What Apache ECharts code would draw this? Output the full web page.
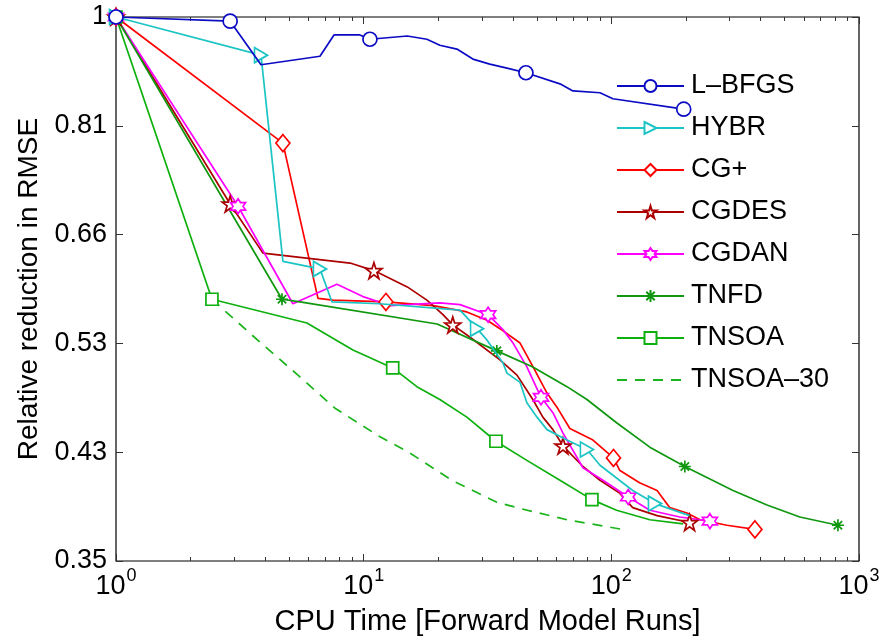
<!DOCTYPE html>
<html>
<head>
<meta charset="utf-8">
<script src="https://cdn.jsdelivr.net/npm/echarts@6/dist/echarts.min.js"></script>
<style>html,body{margin:0;background:#fff;}</style>
</head>
<body>
<div id="main" style="width:882px;height:639px;"></div>
<script>
// values (x = CPU time, y = relative reduction)
var lbfgsX = [1, 2.89, 3.85, 6.66, 7.59, 9.66, 10.6, 15.0, 18.0, 20.3, 23.8, 27.6, 32.3, 37.9, 45.2, 62, 70, 90, 101.5, 196];
var lbfgsY = [1, 0.992, 0.912, 0.927, 0.966, 0.966, 0.958, 0.964, 0.958, 0.947, 0.940, 0.922, 0.913, 0.906, 0.898, 0.879, 0.867, 0.864, 0.854, 0.837];
var lbfgsMarks = [0, 1, 6, 14, 19];

var hybrX = [1, 3.85, 4.72, 6.66, 7.45, 11.6, 24.5, 28.7, 31.5, 36.5, 37.9, 42.8, 45.6, 50.1, 55, 66.2, 79.7, 90, 122, 150, 207];
var hybrY = [1, 0.929, 0.624, 0.615, 0.577, 0.575, 0.568, 0.548, 0.536, 0.513, 0.503, 0.494, 0.475, 0.462, 0.451, 0.442, 0.434, 0.421, 0.401, 0.391, 0.382];
var hybrMarks = [0, 1, 3, 7, 16, 19];

var cgpX = [1, 4.72, 6.54, 7.52, 12.3, 19.1, 26.1, 31.5, 35.5, 42.8, 48.3, 55, 60.3, 68, 84.3, 102, 108, 130, 153, 172, 202, 228, 293, 380];
var cgpY = [1, 0.784, 0.581, 0.579, 0.577, 0.573, 0.566, 0.557, 0.548, 0.533, 0.509, 0.484, 0.471, 0.452, 0.442, 0.427, 0.417, 0.407, 0.401, 0.388, 0.384, 0.379, 0.375, 0.372];
var cgpMarks = [0, 1, 4, 15, 23];

var cgdesX = [1, 2.89, 3.92, 8.81, 11.0, 15.0, 18.0, 20.9, 22.9, 26.9, 35.5, 41.6, 48.2, 52.9, 58.1, 63.8, 76.8, 90, 108, 122, 153, 207];
var cgdesY = [1, 0.697, 0.634, 0.622, 0.613, 0.594, 0.579, 0.563, 0.552, 0.539, 0.516, 0.501, 0.478, 0.462, 0.451, 0.437, 0.420, 0.409, 0.399, 0.388, 0.382, 0.377];
var cgdesMarks = [0, 1, 4, 8, 15, 21];

var cgdanX = [1, 3.11, 5.18, 7.80, 9.93, 12.8, 20.3, 24.5, 31.8, 36.5, 40.1, 45.6, 52, 58.1, 63.8, 76.8, 92.5, 117, 143, 189, 250];
var cgdanY = [1, 0.694, 0.575, 0.597, 0.583, 0.573, 0.576, 0.574, 0.563, 0.547, 0.533, 0.509, 0.480, 0.466, 0.448, 0.419, 0.409, 0.396, 0.386, 0.381, 0.378];
var cgdanMarks = [0, 1, 8, 12, 17, 20];

var tnfdX = [1, 4.68, 5.53, 19.8, 34.5, 48.2, 66.2, 79.7, 105, 143, 198, 310, 425, 577, 822];
var tnfdY = [1, 0.580, 0.577, 0.553, 0.525, 0.509, 0.490, 0.478, 0.457, 0.436, 0.420, 0.401, 0.390, 0.381, 0.375];
var tnfdMarks = [0, 1, 4, 10, 14];

var tnsoaX = [1, 2.44, 5.90, 9.05, 13.1, 16.4, 20.3, 26.1, 34.2, 45.6, 62, 83.5, 105, 143, 195];
var tnsoaY = [1, 0.580, 0.554, 0.526, 0.508, 0.490, 0.478, 0.462, 0.441, 0.425, 0.409, 0.394, 0.386, 0.379, 0.376];
var tnsoaMarks = [0, 1, 4, 8, 11];

var tnsoa30X = [2.44, 3.81, 5.43, 7.66, 11.6, 15.4, 22.7, 34.5, 43.6, 66.2, 111];
var tnsoa30Y = [0.580, 0.534, 0.501, 0.470, 0.445, 0.431, 0.409, 0.392, 0.387, 0.379, 0.372];
var tnsoa30Marks = [];

var xMajor = [1, 10, 100, 1000];
var xMinor = [2, 3, 4, 5, 6, 7, 8, 9, 20, 30, 40, 50, 60, 70, 80, 90, 200, 300, 400, 500, 600, 700, 800, 900];
var yTicks = [0.35, 0.4318, 0.5327, 0.6571, 0.8106, 1];

var FONT = "'Liberation Sans', Arial, Helvetica, sans-serif";

// marker shapes (matlab style)
var PENTAGRAM = 'path://M50 0 L61.2 34.5 L97.6 34.5 L68.2 55.9 L79.4 90.5 L50 69.1 L20.6 90.5 L31.8 55.9 L2.4 34.5 L38.8 34.5 Z';
var HEXAGRAM = 'path://M50 0 L64.4 25 L93.3 25 L78.9 50 L93.3 75 L64.4 75 L50 100 L35.6 75 L6.7 75 L21.1 50 L6.7 25 L35.6 25 Z';
var ASTERISK = 'path://M0 50 L100 50 M50 0 L50 100 M15 15 L85 85 M85 15 L15 85';
var TRI_RIGHT = 'path://M0 0 L100 50 L0 100 Z';

function makeSeries(name, xs, ys, marks, color, symbol, size, dashed, z) {
  var data = xs.map(function (x, i) {
    if (marks.indexOf(i) >= 0) return [x, ys[i]];
    return { value: [x, ys[i]], symbol: 'none' };
  });
  return {
    name: name,
    type: 'line',
    data: data,
    color: color,
    symbol: symbol,
    symbolSize: size,
    showAllSymbol: true,
    showSymbol: marks.length > 0,
    lineStyle: { color: color, width: 1.7, type: dashed ? [10, 8] : 'solid' },
    itemStyle: {
      color: '#fff',
      borderColor: color,
      borderWidth: 1.7,
      opacity: marks.length > 0 ? 1 : 0
    },
    emphasis: { disabled: true },
    z: z || 3
  };
}

var series = [
  makeSeries('L\u2013BFGS', lbfgsX, lbfgsY, lbfgsMarks, '#0b0bc4', 'circle', 14, false, 5),
  makeSeries('HYBR', hybrX, hybrY, hybrMarks, '#1cc4c4', TRI_RIGHT, [13, 15], false, 4),
  makeSeries('CG+', cgpX, cgpY, cgpMarks, '#ff0000', 'diamond', [14, 17]),
  makeSeries('CGDES', cgdesX, cgdesY, cgdesMarks, '#ac0000', PENTAGRAM, 16),
  makeSeries('CGDAN', cgdanX, cgdanY, cgdanMarks, '#ff00ff', HEXAGRAM, 15),
  makeSeries('TNFD', tnfdX, tnfdY, tnfdMarks, '#0f980f', ASTERISK, 12),
  makeSeries('TNSOA', tnsoaX, tnsoaY, tnsoaMarks, '#0db00d', 'rect', 12),
  makeSeries('TNSOA\u201330', tnsoa30X, tnsoa30Y, tnsoa30Marks, '#1cb41c', 'circle', 10, true)
];

function xAxisDef(pos, values, len, showLabel, name) {
  return {
    type: 'log',
    logBase: 10,
    min: 1,
    max: 1000,
    position: pos,
    name: name || '',
    nameLocation: 'middle',
    nameGap: 46,
    nameTextStyle: { fontFamily: FONT, fontSize: 29, color: '#000' },
    axisLine: { show: false },
    splitLine: { show: false },
    axisTick: { show: true, inside: true, length: len, customValues: values, lineStyle: { color: '#333', width: 1 } },
    axisLabel: {
      show: showLabel,
      customValues: values,
      margin: 12,
      formatter: function (v) {
        return '{b|10}{s|' + Math.round(Math.log10(v)) + '}';
      },
      rich: {
        b: { fontFamily: FONT, fontSize: 27, color: '#000', verticalAlign: 'bottom', lineHeight: 27 },
        s: { fontFamily: FONT, fontSize: 18, color: '#000', verticalAlign: 'bottom', lineHeight: 18, padding: [0, 0, 15, 1] }
      }
    }
  };
}

function yAxisDef(pos, showLabel, name) {
  return {
    type: 'log',
    logBase: 10,
    min: 0.35,
    max: 1,
    position: pos,
    name: name || '',
    nameLocation: 'middle',
    nameGap: 73,
    nameTextStyle: { fontFamily: FONT, fontSize: 28, color: '#000' },
    axisLine: { show: false },
    splitLine: { show: false },
    axisTick: { show: true, inside: true, length: 7, customValues: yTicks, lineStyle: { color: '#333', width: 1 } },
    axisLabel: {
      show: showLabel,
      customValues: yTicks,
      margin: 9,
      fontFamily: FONT,
      fontSize: 27,
      color: '#000',
      formatter: function (v) {
        return v > 0.999 ? '1' : v.toFixed(2);
      }
    }
  };
}

var chart = echarts.init(document.getElementById('main'));
chart.setOption({
  animation: false,
  backgroundColor: '#fff',
  grid: {
    left: 116, right: 23, top: 17, bottom: 78,
    show: true, borderColor: '#000', borderWidth: 1.2,
    outerBoundsMode: 'none'
  },
  legend: {
    orient: 'vertical',
    left: 616,
    top: 72,
    padding: 0,
    itemWidth: 67,
    itemHeight: 15,
    itemGap: 14,
    selectedMode: false,
    textStyle: { fontFamily: FONT, fontSize: 27, color: '#000', lineHeight: 28, padding: [0, 0, 0, 2] },
    data: series.map(function (s) { return s.name; })
  },
  xAxis: [
    xAxisDef('bottom', xMajor, 7, true, 'CPU Time [Forward Model Runs]'),
    xAxisDef('bottom', xMinor, 4, false),
    xAxisDef('top', xMajor, 7, false),
    xAxisDef('top', xMinor, 4, false)
  ],
  yAxis: [
    yAxisDef('left', true, 'Relative reduction in RMSE'),
    yAxisDef('right', false)
  ],
  series: series
});
</script>
</body>
</html>
